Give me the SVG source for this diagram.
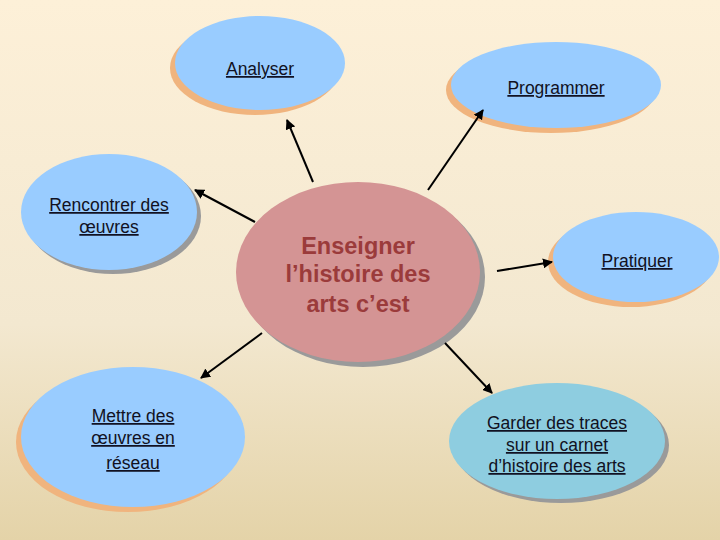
<svg xmlns="http://www.w3.org/2000/svg" width="720" height="540" viewBox="0 0 720 540">
<defs>
<linearGradient id="bg" x1="0" y1="0" x2="0" y2="1">
<stop offset="0" stop-color="#FDF0D8"/>
<stop offset="0.6" stop-color="#F3E8D0"/>
<stop offset="1" stop-color="#E4D3A8"/>
</linearGradient>
<marker id="ah" viewBox="0 0 10 10" refX="9" refY="5" markerWidth="5" markerHeight="5" orient="auto">
<path d="M0,0 L10,5 L0,10 z" fill="#000"/>
</marker>
<style>
.blue{fill:#99CCFF}
.oshadow{fill:#F0B47E}
.gshadow{fill:#9A9A9A}
.lbl{font-family:"Liberation Sans",Arial,sans-serif;font-size:17.5px;fill:#111122;text-anchor:middle;text-decoration:underline}
.ctr{font-family:"Liberation Sans",Arial,sans-serif;font-size:23.5px;font-weight:bold;fill:#9B3B3B;text-anchor:middle}
.conn{stroke:#000;stroke-width:2;fill:none;marker-end:url(#ah)}
</style>
</defs>
<rect width="720" height="540" fill="url(#bg)"/>
<g id="analyser">
<ellipse class="oshadow" cx="255" cy="68" rx="85" ry="47"/>
<ellipse class="blue" cx="260" cy="63" rx="85" ry="47"/>
<text class="lbl" x="260" y="75">Analyser</text>
</g>
<g id="programmer">
<ellipse class="oshadow" cx="551" cy="90" rx="105" ry="43"/>
<ellipse class="blue" cx="556" cy="85" rx="105" ry="43"/>
<text class="lbl" x="556" y="94">Programmer</text>
</g>
<g id="rencontrer">
<ellipse class="gshadow" cx="113" cy="216" rx="88" ry="58"/>
<ellipse class="blue" cx="109" cy="212" rx="88" ry="58"/>
<text class="lbl" x="109" y="211">Rencontrer des</text>
<text class="lbl" x="109" y="233">œuvres</text>
</g>
<g id="centre">
<ellipse class="gshadow" cx="363" cy="277" rx="122" ry="90"/>
<ellipse cx="358" cy="272" rx="122" ry="90" fill="#D49494"/>
<text class="ctr" x="358" y="254">Enseigner</text>
<text class="ctr" x="358" y="282">l’histoire des</text>
<text class="ctr" x="358" y="312">arts c’est</text>
</g>
<g id="pratiquer">
<ellipse class="oshadow" cx="631" cy="262" rx="83" ry="45"/>
<ellipse class="blue" cx="636" cy="257" rx="83" ry="45"/>
<text class="lbl" x="637" y="267">Pratiquer</text>
</g>
<g id="mettre">
<ellipse class="oshadow" cx="128" cy="442" rx="112" ry="70"/>
<ellipse class="blue" cx="133" cy="437" rx="112" ry="70"/>
<text class="lbl" x="133" y="422">Mettre des</text>
<text class="lbl" x="133" y="444">œuvres en</text>
<text class="lbl" x="133" y="469">réseau</text>
</g>
<g id="garder">
<ellipse class="gshadow" cx="561" cy="445" rx="108" ry="58"/>
<ellipse cx="557" cy="441" rx="108" ry="58" fill="#8ECDE0"/>
<text class="lbl" x="557" y="429">Garder des traces</text>
<text class="lbl" x="557" y="451">sur un carnet</text>
<text class="lbl" x="557" y="472">d’histoire des arts</text>
</g>
<g id="connectors">
<line class="conn" x1="313" y1="182" x2="287" y2="120"/>
<line class="conn" x1="428" y1="190" x2="483" y2="110"/>
<line class="conn" x1="255" y1="222" x2="195" y2="190"/>
<line class="conn" x1="497" y1="271" x2="552" y2="262"/>
<line class="conn" x1="262" y1="333" x2="201" y2="378"/>
<line class="conn" x1="445" y1="343" x2="492" y2="393"/>
</g>
</svg>
